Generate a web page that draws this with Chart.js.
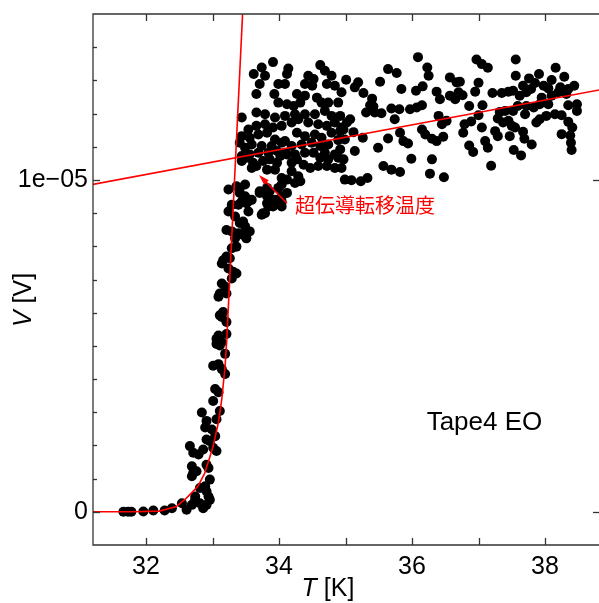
<!DOCTYPE html>
<html>
<head>
<meta charset="utf-8">
<script src="https://cdn.jsdelivr.net/npm/chart.js@4.4.1/dist/chart.umd.min.js"></script>
<style>
  html, body { margin: 0; padding: 0; background: #fff; overflow: hidden; }
  canvas { display: block; }
</style>
</head>
<body>
<canvas id="chart" width="599" height="603"></canvas>
<script>
// voltages are kept in microvolts (1e-6 V); the axis label shows them in volts

// transition foot and lower rise  [T (K), V (uV)]
const riseLow = [
  [31.66,0],[31.73,0],[31.78,0],[31.96,0.01],[32.11,0.04],[32.28,0.04],[32.39,0.11],[32.54,0.26],
  [32.61,0.06],[32.69,0.21],[32.74,0.36],[32.81,0.26],[32.86,0.11],[32.91,0.21],[32.94,0.46],[32.96,0.36],
  [32.89,0.77],[32.81,0.72],[32.74,0.46],[32.91,0.62],[32.69,1.37],[32.71,1.17],[32.69,1.07],[32.76,1.22],
  [32.91,1.42],[32.94,1.32],[32.96,0.97],[32.66,1.98],[32.71,1.78],[32.79,1.73],[32.86,1.88],[32.91,2.18],
  [32.96,2.13],[33.01,1.93],[33.06,1.83],[33.04,2.28],[32.99,2.48],[32.89,2.54],[32.91,2.74],[32.84,2.99],
  [33.06,2.79],[33.11,3.04],[33.01,3.34],[33.04,3.70],[33.09,3.60],[33.01,4.40],[33.09,4.45],[33.14,4.30],
  [33.19,4.15],[33.11,5.01],[33.19,4.76],[33.06,5.21]
];

// upper rise
const riseHigh = [
  [33.24,9.71],[33.36,9.81],[33.49,9.86],[33.41,9.61],[33.49,9.51],[33.59,9.40],[33.44,9.35],[33.29,9.25],
  [33.39,9.25],[33.51,9.30],[33.54,9.05],[33.24,9.05],[33.34,8.90],[33.46,8.75],[33.49,8.60],[33.21,8.49],
  [33.29,8.45],[33.39,8.39],[33.46,8.34],[33.56,8.45],[33.51,8.24],[33.34,8.24],[33.29,7.94],[33.36,7.99],
  [33.21,7.69],[33.16,7.58],[33.14,7.48],[33.26,7.64],[33.24,7.33],[33.31,7.23],[33.36,7.18],[33.29,7.03],
  [33.14,6.88],[33.19,6.78],[33.11,6.58],[33.09,6.48],[33.21,6.58],[33.16,6.02],[33.14,5.87],[33.21,5.72],
  [33.11,5.92],[33.09,5.31],[33.06,5.06],[33.21,5.36],[33.14,5.11],
  [33.71,9.61],[33.82,9.76],[33.86,9.45],[33.84,9.20],[33.94,9.40],[34.04,9.35],[34.04,9.20],[33.79,9.00],
  [33.74,8.95],[34.04,10.06],[33.99,9.76]
];

// knee, around the arrow
const knee = [
  [33.44,10.57],[33.51,10.67],[33.61,10.52],[33.66,10.42],[33.59,10.36],[33.76,10.57],[33.86,10.62],[33.97,10.52],
  [33.94,10.31],[33.82,10.31],[34.02,10.72],[34.12,10.77],[34.19,10.52],[34.27,10.62],[34.37,10.46],[34.47,10.36],
  [34.59,10.42],[34.19,10.26],[34.29,10.11],[34.32,9.96],[34.24,9.91],[34.12,10.01],[34.04,9.86],[33.86,9.66],
  [33.82,9.51],[33.71,9.66],[34.12,9.61],[34.04,9.51],[33.91,9.20],[33.82,9.30],[33.76,9.00],[33.41,9.76],
  [33.54,9.35],[33.41,8.70]
];

// plateau, 33.4 - 35 K
const plateauLeft = [
  [33.91,13.55],[33.74,13.39],[33.62,13.19],[33.79,13.14],[34.14,13.36],[34.12,13.19],[34.62,13.46],[34.69,13.29],
  [34.79,13.14],[34.44,13.14],[34.52,13.04],[33.99,12.89],[34.09,12.89],[33.71,12.89],[34.39,12.89],[34.50,12.84],
  [34.72,12.89],[34.84,12.84],[33.66,12.59],[33.93,12.59],[34.27,12.59],[34.39,12.54],[34.57,12.48],[34.94,12.64],
  [34.64,12.33],[34.74,12.33],[34.89,12.33],[33.99,12.33],[34.12,12.28],[34.22,12.23],[34.32,12.33],
  [33.44,11.88],[33.66,12.03],[33.79,11.98],[33.94,11.88],[34.09,11.93],[34.24,11.98],[34.39,11.98],[34.54,11.98],
  [34.69,12.08],[34.79,11.93],[34.92,11.93],
  [33.54,11.52],[33.66,11.63],[33.79,11.68],[33.91,11.58],[34.04,11.63],[34.19,11.73],[34.29,11.83],[34.44,11.73],
  [34.59,11.68],[34.72,11.63],[34.84,11.73],[34.94,11.58],
  [33.44,11.32],[33.56,11.27],[33.69,11.37],[33.82,11.42],[33.94,11.22],[34.09,11.17],[34.27,11.42],[34.39,11.32],
  [34.54,11.37],[34.64,11.27],[34.79,11.42],[34.92,11.47],
  [33.41,11.12],[33.49,10.97],[33.59,11.07],[33.74,11.02],[33.89,11.02],[34.04,11.12],[34.19,11.02],[34.34,11.07],
  [34.49,11.12],[34.62,11.02],[34.74,11.07],[34.89,11.20],
  [33.44,10.72],[33.56,10.77],[33.69,10.82],[33.84,10.82],[33.97,10.87],[34.09,10.82],[34.24,10.77],[34.39,10.82],
  [34.52,10.82],[34.69,10.82],[34.84,10.77],
  [34.62,10.67],[34.74,10.62],[34.89,10.67],[34.72,10.42],[34.84,10.36]
];

// plateau, 35 - 36.7 K
const plateauMid = [
  [36.09,13.70],[35.64,13.34],[35.77,13.22],[36.23,13.39],[36.25,13.14],[35.01,13.02],[35.19,12.94],[35.52,12.96],
  [35.14,12.79],[35.27,12.62],[35.84,12.74],[36.16,12.82],[36.06,12.69],[36.37,12.66],[36.57,13.09],[36.67,12.94],
  [36.57,12.54],[36.65,12.43],[36.42,12.43],[35.40,12.45],[35.37,12.25],[35.42,12.21],[35.31,12.03],[35.44,12.03],
  [35.54,12.01],[35.69,12.15],[35.81,12.13],[35.97,12.13],[36.07,12.18],[36.15,12.25],[35.74,11.83],[36.40,11.93],
  [36.52,11.78],[36.45,11.68],[35.02,11.73],[35.07,11.83],[34.97,11.52],[35.12,11.44],[35.26,11.27],[34.99,11.22],
  [35.82,11.42],[35.87,11.17],[35.94,11.10],[35.64,11.25],[36.15,11.52],[36.20,11.37],[36.30,11.24],[36.37,11.17],
  [36.47,11.30],[35.49,10.97],[35.14,10.87],[34.92,10.92],[34.97,10.62],[35.99,10.64],[36.30,10.62],[35.57,10.42],
  [35.69,10.31],[35.82,10.24],[34.94,10.36],[36.27,10.19],[36.48,10.08],[34.99,10.01],[35.09,9.99],[35.23,9.96],
  [35.33,10.06]
];

// plateau, 36.7 - 38.5 K
const plateauRight = [
  [36.97,13.63],[37.05,13.49],[37.14,13.38],[37.56,13.63],[37.56,13.14],[37.76,13.06],[37.91,13.19],[38.16,13.38],
  [38.29,13.11],[38.10,13.01],[36.72,12.96],[37.00,12.93],[36.70,12.64],[36.76,12.55],[36.95,12.66],[37.21,12.62],
  [37.35,12.62],[37.45,12.66],[37.52,12.69],[37.67,12.84],[37.85,12.92],[37.98,12.84],[38.05,12.76],[38.23,12.79],
  [38.35,12.74],[38.44,12.84],[37.62,12.54],[37.72,12.64],[37.79,12.74],[37.95,12.48],[38.10,12.54],[38.20,12.64],
  [38.32,12.59],[36.86,12.23],[37.06,12.25],[37.32,12.05],[37.40,12.08],[37.52,12.08],[37.59,12.23],[37.72,12.23],
  [37.70,11.98],[37.83,12.18],[37.92,12.28],[38.05,12.28],[38.15,11.98],[38.25,11.95],[38.35,12.25],[38.48,12.28],
  [38.48,12.08],[37.00,11.95],[36.89,11.76],[36.79,11.68],[37.05,11.58],[37.29,11.85],[37.37,11.73],[37.45,11.78],
  [37.50,11.63],[37.55,11.58],[37.87,11.73],[37.92,11.83],[38.02,11.93],[38.35,11.75],[38.41,11.58],[36.77,11.42],
  [37.25,11.47],[37.29,11.32],[37.47,11.32],[37.67,11.45],[37.69,11.24],[37.80,11.07],[38.25,11.38],[38.38,11.34],
  [37.10,11.17],[36.86,11.04],[36.92,10.84],[37.14,10.97],[37.53,10.90],[37.64,10.74],[38.39,11.12],[38.40,10.90],
  [37.19,10.43]
];

// red fit curve through the foot of the transition
const fitT = [31.2, 31.8, 32.2, 32.45, 32.6, 32.7, 32.78, 32.88, 32.96, 33.01, 33.09, 33.14, 33.19, 33.215];
const fitV = [0, 0, 0.02, 0.15, 0.4, 0.6, 0.77, 1.15, 1.65, 1.98, 2.7, 3.4, 4.4, 5.2];

// straight red lines: normal-state trend and steep transition
const normalLine = [[31.0, 9.79], [39.0, 12.78]];
const steepLine = [[33.215, 5.2], [33.48, 16.14]];

// axes (the right frame edge sits just outside the picture)
const xRange = [31.203, 38.812];
const yRange = [-1, 15];
const xLabelTicks = [32, 34, 36, 38];
const xMinorTicks = [32, 33, 34, 35, 36, 37, 38];
const yTickValues = [0, 10];
const yTickLabels = ['0', '1e\u221205'];
const yMinorTicks = [1, 2, 3, 4, 5, 6, 7, 8, 9, 11, 12, 13, 14];

// annotations
const arrowTip = [33.70, 10.15];
const arrowTail = [34.12, 9.30];
const tcLabel = { text: '超伝導転移温度', at: [34.24, 9.24] };
const sampleLabel = { text: 'Tape4 EO', at: [36.22, 2.68] };

const FONT = '"Liberation Sans", Arial, Helvetica, sans-serif';
const CJK = '"Noto Sans CJK JP", "Noto Sans CJK SC", sans-serif';
const RED = '#ff0000';

const toXY = pts => pts.map(p => ({ x: p[0], y: p[1] }));
const points = toXY([].concat(riseLow, riseHigh, knee, plateauLeft, plateauMid, plateauRight));

// keep the plot box exactly where the layout padding / afterFit sizes put it
const noPad = s => { s.paddingTop = 0; s.paddingBottom = 0; s.paddingLeft = 0; s.paddingRight = 0; };

const framePlugin = {
  id: 'frame',
  afterDraw(chart) {
    const { ctx, chartArea: a, scales: { x, y } } = chart;
    const seg = (x1, y1, x2, y2) => { ctx.beginPath(); ctx.moveTo(x1, y1); ctx.lineTo(x2, y2); ctx.stroke(); };
    ctx.save();
    ctx.strokeStyle = '#333';
    ctx.lineWidth = 1.3;
    ctx.beginPath();
    ctx.moveTo(chart.width, a.top);
    ctx.lineTo(a.left, a.top);
    ctx.lineTo(a.left, a.bottom);
    ctx.lineTo(chart.width, a.bottom);
    ctx.stroke();
    xMinorTicks.forEach(v => {
      const px = Math.round(x.getPixelForValue(v)) + 0.5;
      seg(px, a.bottom, px, a.bottom - 7);
      seg(px, a.top, px, a.top + 7);
    });
    yTickValues.forEach(v => {
      const py = Math.round(y.getPixelForValue(v)) + 0.5;
      seg(a.left, py, a.left + 7, py);
      seg(chart.width, py, chart.width - 6, py);
    });
    yMinorTicks.forEach(v => {
      const py = Math.round(y.getPixelForValue(v)) + 0.5;
      seg(a.left, py, a.left + 4, py);
    });

    // arrow + label
    const tx = x.getPixelForValue(arrowTip[0]), ty = y.getPixelForValue(arrowTip[1]);
    const sx = x.getPixelForValue(arrowTail[0]), sy = y.getPixelForValue(arrowTail[1]);
    const ang = Math.atan2(ty - sy, tx - sx);
    ctx.strokeStyle = RED;
    ctx.fillStyle = RED;
    ctx.lineWidth = 1.5;
    seg(sx, sy, tx - 8 * Math.cos(ang), ty - 8 * Math.sin(ang));
    ctx.beginPath();
    ctx.moveTo(tx, ty);
    ctx.lineTo(tx - 11 * Math.cos(ang - 0.3), ty - 11 * Math.sin(ang - 0.3));
    ctx.lineTo(tx - 11 * Math.cos(ang + 0.3), ty - 11 * Math.sin(ang + 0.3));
    ctx.closePath();
    ctx.fill();
    ctx.font = '20px ' + CJK;
    ctx.textBaseline = 'middle';
    ctx.textAlign = 'left';
    ctx.fillText(tcLabel.text, x.getPixelForValue(tcLabel.at[0]), y.getPixelForValue(tcLabel.at[1]));

    ctx.fillStyle = '#000';
    ctx.font = '26px ' + FONT;
    ctx.fillText(sampleLabel.text, x.getPixelForValue(sampleLabel.at[0]), y.getPixelForValue(sampleLabel.at[1]));

    // axis titles (italic symbol + unit)
    const widths = (sym, unit) => {
      ctx.font = 'italic 25px ' + FONT;
      const w1 = ctx.measureText(sym).width;
      ctx.font = '25px ' + FONT;
      return [w1, ctx.measureText(unit).width];
    };
    let [w1, w2] = widths('T', ' [K]');
    const cx = 328, cy = 589;
    ctx.font = 'italic 25px ' + FONT;
    ctx.fillText('T', cx - (w1 + w2) / 2, cy);
    ctx.font = '25px ' + FONT;
    ctx.fillText(' [K]', cx - (w1 + w2) / 2 + w1, cy);

    [w1, w2] = widths('V', ' [V]');
    ctx.save();
    ctx.translate(24, 300);
    ctx.rotate(-Math.PI / 2);
    ctx.font = 'italic 25px ' + FONT;
    ctx.fillText('V', -(w1 + w2) / 2, 0);
    ctx.font = '25px ' + FONT;
    ctx.fillText(' [V]', -(w1 + w2) / 2 + w1, 0);
    ctx.restore();

    ctx.restore();
  }
};

new Chart(document.getElementById('chart'), {
  type: 'scatter',
  data: {
    datasets: [
      { label: 'fit', data: fitT.map((t, i) => ({ x: t, y: fitV[i] })), showLine: true,
        borderColor: RED, borderWidth: 1.6, pointRadius: 0, order: 0 },
      { label: 'normal', data: toXY(normalLine), showLine: true,
        borderColor: RED, borderWidth: 1.6, pointRadius: 0, order: 0 },
      { label: 'steep', data: toXY(steepLine), showLine: true,
        borderColor: RED, borderWidth: 1.6, pointRadius: 0, order: 0 },
      { label: 'V', data: points, backgroundColor: '#000', borderWidth: 0,
        pointRadius: 5, order: 1 }
    ]
  },
  options: {
    responsive: false,
    animation: false,
    events: [],
    layout: { autoPadding: false, padding: { top: 14, right: 0, left: 0, bottom: 0 } },
    plugins: { legend: { display: false }, tooltip: { enabled: false } },
    scales: {
      x: {
        type: 'linear', min: xRange[0], max: xRange[1],
        afterFit: s => { s.height = 58; noPad(s); },
        afterBuildTicks: s => { s.ticks = xLabelTicks.map(v => ({ value: v })); },
        grid: { display: false, drawTicks: false },
        border: { display: false },
        ticks: { padding: 7, color: '#000', font: { family: FONT, size: 25 }, maxRotation: 0, autoSkip: false,
                 callback: v => String(v) }
      },
      y: {
        type: 'linear', min: yRange[0], max: yRange[1],
        afterFit: s => { s.width = 93; noPad(s); },
        afterBuildTicks: s => { s.ticks = yTickValues.map(v => ({ value: v })); },
        grid: { display: false, drawTicks: false },
        border: { display: false },
        ticks: { padding: 5, color: '#000', font: { family: FONT, size: 25 }, autoSkip: false,
                 callback: v => yTickLabels[yTickValues.indexOf(v)] }
      }
    }
  },
  plugins: [framePlugin]
});
</script>
</body>
</html>
